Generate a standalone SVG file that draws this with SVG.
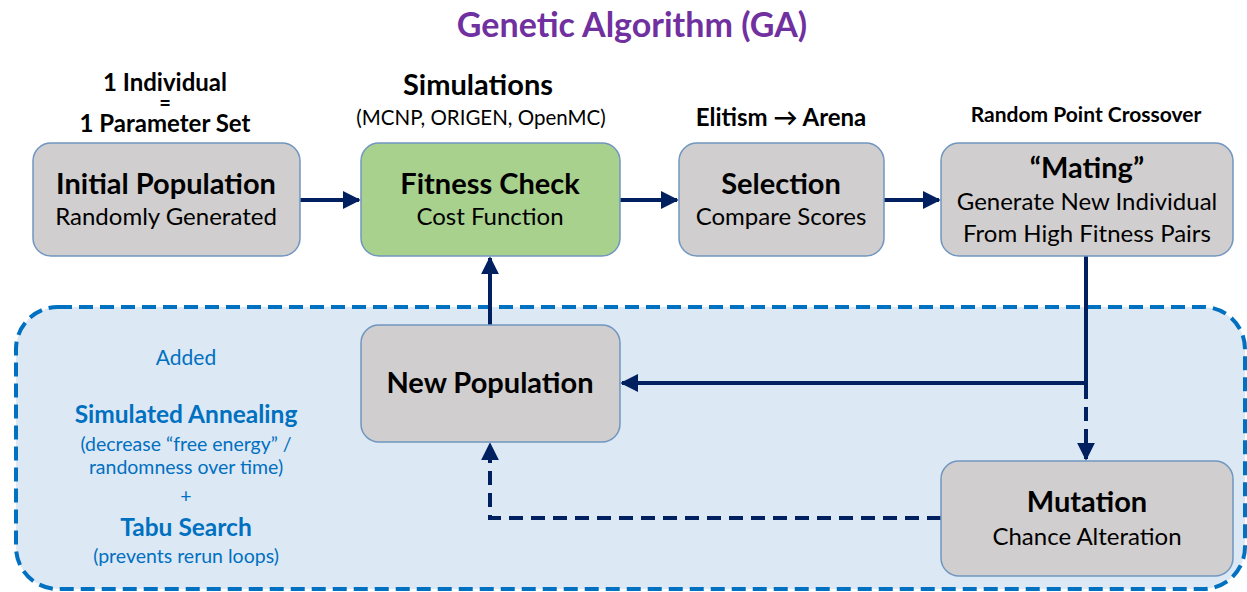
<svg xmlns="http://www.w3.org/2000/svg" width="1247" height="592" viewBox="0 0 1247 592">
<defs>
<style>
text{font-family:Lato,"Open Sans","Liberation Sans",sans-serif;text-anchor:middle}
.box{fill:#d0cece;stroke:#7096c0;stroke-width:1.5}
.green{fill:#a9d18e}
.h{font-weight:bold;font-size:29px;fill:#000}
.s{font-size:24px;fill:#000}
.lab{font-weight:bold;font-size:24px;fill:#000}
.blue{fill:#0070c0}
.con{fill:none;stroke:#002060;stroke-width:4}
.dash{stroke-dasharray:14 8}
</style>
<marker id="ah" viewBox="0 0 10 10" refX="9" refY="5" markerWidth="4.5" markerHeight="4.5" orient="auto" markerUnits="strokeWidth">
<path d="M0,0 L10,5 L0,10 z" fill="#002060"/>
</marker>
</defs>
<rect width="1247" height="592" fill="#fff"/>
<g id="container">
<rect x="16" y="307" width="1229" height="282" rx="42" fill="#dde8f5" stroke="#0070c0" stroke-width="4" stroke-dasharray="14 7"/>
</g>
<text x="632" y="37" style="font-size:34px;font-weight:bold;fill:#7030a0">Genetic Algorithm (GA)</text>
<g id="labels">
<text class="lab" x="165" y="91">1 Individual</text>
<text x="165" y="110" style="font-size:20px;font-weight:bold">=</text>
<text class="lab" x="165" y="132">1 Parameter Set</text>
<text x="478" y="95" style="font-size:29px;font-weight:bold">Simulations</text>
<text x="481" y="125" style="font-size:20.5px">(MCNP, ORIGEN, OpenMC)</text>
<text class="lab" x="781" y="126">Elitism → Arena</text>
<text x="1086" y="122" style="font-size:21px;font-weight:bold">Random Point Crossover</text>
</g>
<g id="connectors">
<line class="con" x1="300" y1="200" x2="359" y2="200" marker-end="url(#ah)"/>
<line class="con" x1="620" y1="200" x2="677" y2="200" marker-end="url(#ah)"/>
<line class="con" x1="884" y1="200" x2="939" y2="200" marker-end="url(#ah)"/>
<polyline class="con" points="1086,256 1086,383 622,383" marker-end="url(#ah)"/>
<line class="con dash" x1="1086" y1="385" x2="1086" y2="459" marker-end="url(#ah)"/>
<polyline class="con dash" points="941,518 490,518 490,444" marker-end="url(#ah)"/>
<line class="con" x1="490" y1="325" x2="490" y2="258" marker-end="url(#ah)"/>
</g>
<g id="initial">
<rect class="box" x="33" y="143" width="267" height="113" rx="18"/>
<text class="h" x="166" y="194">Initial Population</text>
<text class="s" x="166" y="225">Randomly Generated</text>
</g>
<g id="fitness">
<rect class="box green" x="361" y="143" width="259" height="113" rx="18"/>
<text class="h" x="490" y="194">Fitness Check</text>
<text class="s" x="490" y="225">Cost Function</text>
</g>
<g id="selection">
<rect class="box" x="679" y="143" width="205" height="113" rx="18"/>
<text class="h" x="781" y="194">Selection</text>
<text class="s" x="781" y="225">Compare Scores</text>
</g>
<g id="mating">
<rect class="box" x="941" y="143" width="292" height="113" rx="18"/>
<text class="h" x="1087" y="178">“Mating”</text>
<text class="s" x="1087" y="210">Generate New Individual</text>
<text class="s" x="1087" y="242">From High Fitness Pairs</text>
</g>
<g id="newpop">
<rect class="box" x="361" y="325" width="259" height="117" rx="18"/>
<text class="h" x="490" y="393">New Population</text>
</g>
<g id="mutation">
<rect class="box" x="941" y="461" width="292" height="115" rx="18"/>
<text class="h" x="1087" y="512">Mutation</text>
<text class="s" x="1087" y="545">Chance Alteration</text>
</g>
<g id="notes">
<text class="blue" x="186" y="365" style="font-size:21px">Added</text>
<text class="blue" x="186" y="423" style="font-size:24.5px;font-weight:bold">Simulated Annealing</text>
<text class="blue" x="186" y="451" style="font-size:19.5px">(decrease “free energy” /</text>
<text class="blue" x="186" y="474" style="font-size:19.5px">randomness over time)</text>
<text class="blue" x="186" y="503" style="font-size:19.5px">+</text>
<text class="blue" x="186" y="536" style="font-size:24.5px;font-weight:bold">Tabu Search</text>
<text class="blue" x="186" y="563" style="font-size:19.5px">(prevents rerun loops)</text>
</g>
</svg>
